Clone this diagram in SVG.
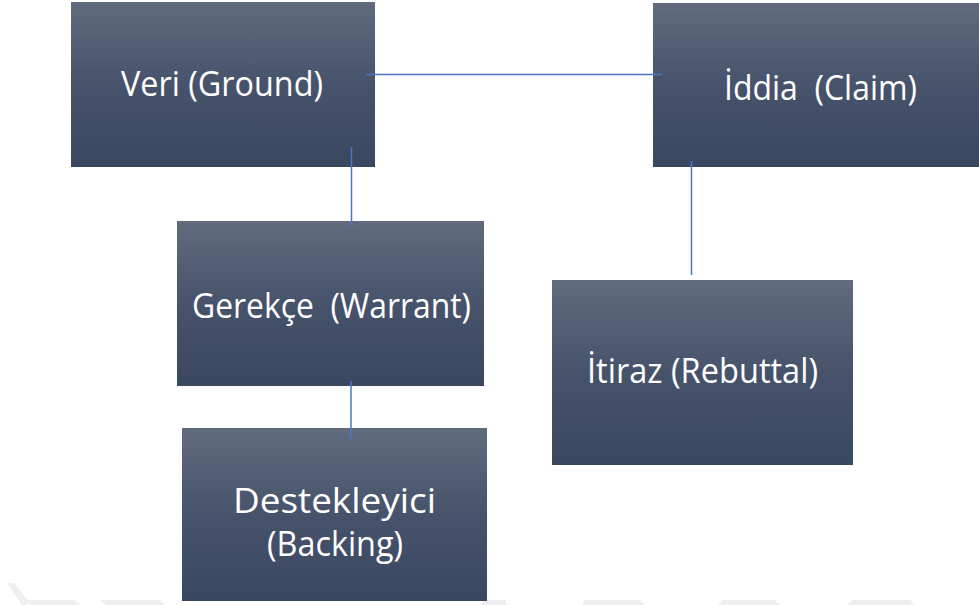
<svg xmlns="http://www.w3.org/2000/svg" width="979" height="605" viewBox="0 0 979 605">
  <defs>
    <linearGradient id="boxGrad" x1="0" y1="0" x2="0" y2="1">
      <stop offset="0" stop-color="#606b7d"/>
      <stop offset="0.5" stop-color="#47536b"/>
      <stop offset="1" stop-color="#3a4761"/>
    </linearGradient>
  </defs>
  <style>
    .box { fill: url(#boxGrad); }
    .lbl { font-family: "Open Sans", "Noto Sans", sans-serif; font-size: 35px; fill: #ffffff; white-space: pre; }
    .conn { stroke: #4a76c6; stroke-width: 1.5; fill: none; }
    .wm { fill: #efefef; }
  </style>
  <rect width="979" height="605" fill="#ffffff"/>

  <g id="watermark">
    <polygon class="wm" points="7,583 14,583 28,601 28,605 22,605"/>
    <polygon class="wm" points="26,600 75,600 80,605 30,605"/>
    <polygon class="wm" points="100,600 160,600 165,605 105,605"/>
    <polygon class="wm" points="485,600 505,600 508,605 480,605"/>
    <polygon class="wm" points="585,600 640,600 645,605 582,605"/>
    <polygon class="wm" points="722,600 775,600 780,605 718,605"/>
    <polygon class="wm" points="852,600 910,600 915,605 848,605"/>
  </g>

  <g id="veri">
    <rect class="box" x="71" y="2" width="304" height="165"/>
    <text class="lbl" x="121" y="96" textLength="202" lengthAdjust="spacingAndGlyphs">Veri (Ground)</text>
  </g>

  <g id="iddia">
    <rect class="box" x="653" y="3" width="326" height="164"/>
    <text class="lbl" x="724" y="100" textLength="193" lengthAdjust="spacingAndGlyphs" xml:space="preserve">İddia  (Claim)</text>
  </g>

  <g id="gerekce">
    <rect class="box" x="177" y="221" width="307" height="165"/>
    <text class="lbl" x="192" y="318" textLength="279" lengthAdjust="spacingAndGlyphs" xml:space="preserve">Gerekçe  (Warrant)</text>
  </g>

  <g id="itiraz">
    <rect class="box" x="552" y="280" width="301" height="185"/>
    <text class="lbl" x="587" y="383" textLength="231" lengthAdjust="spacingAndGlyphs">İtiraz (Rebuttal)</text>
  </g>

  <g id="destekleyici">
    <rect class="box" x="182" y="428" width="305" height="173"/>
    <text class="lbl" x="233" y="513" textLength="203" lengthAdjust="spacingAndGlyphs">Destekleyici</text>
    <text class="lbl" x="267" y="556" textLength="136" lengthAdjust="spacingAndGlyphs">(Backing)</text>
  </g>

  <g id="connectors">
    <line class="conn" x1="366" y1="74.5" x2="662" y2="74.5"/>
    <line class="conn" x1="351.5" y1="147" x2="351.5" y2="226"/>
    <line class="conn" x1="691.5" y1="161" x2="691.5" y2="275"/>
    <line class="conn" x1="351" y1="381" x2="351" y2="439"/>
  </g>
</svg>
